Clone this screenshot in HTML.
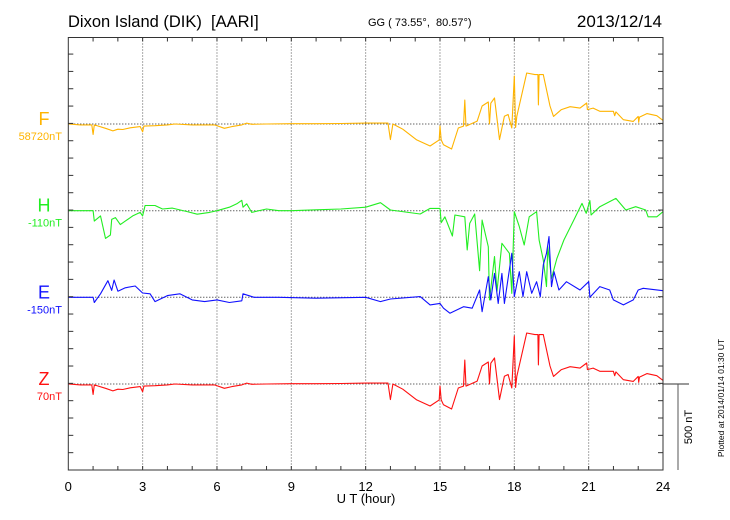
<!DOCTYPE html>
<html><head><meta charset="utf-8"><style>
body{margin:0;background:#fff;}
svg{display:block;font-family:"Liberation Sans",sans-serif;}
</style></head><body>
<svg id="chart" width="730" height="520" viewBox="0 0 730 520">
<text x="68" y="27" font-size="16.5" fill="#000" style="white-space:pre">Dixon Island (DIK)  [AARI]</text>
<text x="368" y="26" font-size="11" fill="#000" style="white-space:pre">GG ( 73.55°,  80.57°)</text>
<text x="662" y="27" font-size="17" text-anchor="end" fill="#000">2013/12/14</text>
<g id="grid"></g>
<g id="series"></g>
<g id="axes"></g>
<text x="366" y="503" font-size="13" text-anchor="middle" fill="#000">U T (hour)</text>
<text x="0" y="0" font-size="11" text-anchor="middle" transform="translate(692,427) rotate(-90)" fill="#000">500 nT</text>
<text x="0" y="0" font-size="8.5" text-anchor="middle" transform="translate(724,398) rotate(-90)" fill="#000">Plotted at 2014/01/14 01:30 UT</text>
</svg>
<script>
const xTicks=[0,3,6,9,12,15,18,21,24];
const fTimes=[0,0.5,0.95,1.0,1.05,1.5,1.8,2.0,2.2,2.5,2.9,3.0,3.05,3.5,4.0,4.3,5.0,5.9,6.3,6.6,7.0,7.2,7.4,8.0,9.0,10.0,11.0,12.0,12.9,13.0,13.1,13.5,14.06,14.6,14.97,15.0,15.05,15.14,15.47,15.74,15.95,16.0,16.05,16.5,16.7,16.95,17.0,17.05,17.2,17.4,17.6,17.75,17.9,18.0,18.05,18.1,18.5,18.83,18.95,18.97,19.0,19.17,19.44,19.58,19.9,20.25,20.65,20.92,20.95,21.18,21.45,22.0,22.05,22.1,22.4,22.8,23.0,23.02,23.05,23.35,23.75,24];
const fValues=[0,-5,-5,-60,-5,-25,-40,-30,-32,-22,-15,-45,-12,-10,-5,0,-5,-5,-25,-15,-5,5,-2,0,2,2,3,5,5,-90,0,-30,-92,-127,-92,-12,-92,-120,-144,-23,-12,138,-12,17,104,127,0,120,150,-90,45,55,-23,277,-20,44,294,285,285,110,285,285,104,44,83,100,92,121,83,92,73,73,48,70,25,15,44,10,40,60,48,21];
const zTimes=fTimes.slice();
const zValues=[0,-5,-5,-60,-5,-25,-40,-30,-32,-22,-15,-45,-12,-10,-5,0,-5,-5,-25,-15,-5,5,-2,0,2,2,3,5,5,-90,0,-30,-92,-127,-92,-12,-92,-120,-144,-23,-12,138,-12,17,104,127,0,120,150,-90,45,55,-23,277,-20,44,294,285,285,110,285,285,104,44,83,100,92,121,83,92,73,73,48,70,25,15,44,10,40,60,48,21];
const hTimes=[0,0.5,1.0,1.05,1.3,1.5,1.7,1.75,1.9,2.1,2.3,2.6,2.9,3.0,3.1,3.5,3.8,4.2,4.8,5.2,5.7,6.0,6.5,6.8,7.0,7.05,7.2,7.4,8.0,8.5,9.0,10.0,11.0,12.0,12.6,13.0,14.2,14.6,15.0,15.05,15.2,15.5,15.6,16.0,16.1,16.2,16.4,16.6,16.7,16.95,17.0,17.2,17.3,17.5,17.8,17.9,18.0,18.2,18.4,18.6,18.9,19.0,19.17,19.3,19.35,19.5,19.72,20.0,20.4,20.73,20.9,21.05,21.1,21.45,22.1,22.5,22.9,23.3,23.4,23.75,24];
const hValues=[0,0,0,-60,-30,-160,-140,-50,-40,-80,-60,-30,-10,-30,30,30,10,15,-5,-20,-10,0,20,40,60,20,40,-10,10,0,0,5,10,20,46,4,-19,13,13,-69,-35,-146,-25,-35,-227,-73,-19,-346,-54,-208,-515,-265,-465,-188,-246,-477,-6,-92,-198,-35,-6,-169,-285,-438,-208,-390,-275,-169,-54,42,-15,58,-25,23,71,4,23,4,-35,-35,-6];
const eTimes=[0,0.5,1.0,1.05,1.3,1.6,1.75,1.85,2.0,2.3,2.7,3.0,3.3,3.5,4.0,4.5,5.0,5.5,6.0,6.5,7.0,7.05,7.5,8.5,10.0,12.0,12.6,13.0,14.2,14.6,15.0,15.14,15.4,15.95,16.3,16.6,16.7,16.95,17.05,17.2,17.35,17.5,17.6,17.9,18.0,18.2,18.35,18.5,18.7,18.9,19.05,19.17,19.3,19.4,19.5,19.6,19.8,20.1,20.65,21.0,21.05,21.45,21.85,22.0,22.4,22.8,23.0,23.2,24];
const eValues=[0,0,0,-30,20,96,40,100,35,55,65,25,20,-25,10,20,-15,-25,-15,-30,-20,20,0,0,-5,0,-25,-10,4,-44,-35,-63,-92,-54,-63,42,-83,119,-15,138,-35,138,-35,254,4,148,4,148,23,90,4,187,254,350,62,148,42,90,42,90,0,62,42,-15,-44,-15,42,52,38];
const labels=["F","H","E","Z"];
const offsets=["58720nT","-110nT","-150nT","70nT"];

const X0=68.3,X1=663,TOP=37.5,BOT=470,PXNT=17.33/100;
const bases=[124,210.7,297.3,384];
const colors=["#ffb400","#22ee22","#1010ff","#ff1010"];
const xs=t=>X0+(X1-X0)*t/24;
const ys=(v,b)=>b-v*PXNT;
const NS="http://www.w3.org/2000/svg";
function mk(tag,attrs,parent){const e=document.createElementNS(NS,tag);for(const k in attrs)e.setAttribute(k,attrs[k]);parent.appendChild(e);return e;}
const grid=document.getElementById('grid'),axes=document.getElementById('axes'),ser=document.getElementById('series');
xTicks.forEach(t=>{if(t>0&&t<24){const l=mk('line',{x1:xs(t),x2:xs(t),y1:TOP,y2:BOT,stroke:'#555','stroke-width':1,'stroke-dasharray':'1,2'},grid);

}});
bases.forEach((b,i)=>{const l=mk('line',{x1:X0,x2:X1,y1:b,y2:b,stroke:'#222','stroke-width':1,'stroke-dasharray':'1,2'},grid);

});
const sets=[[fTimes,fValues],[hTimes,hValues],[eTimes,eValues],[zTimes,zValues]];
sets.forEach((s,i)=>{const pts=s[0].map((t,j)=>xs(t).toFixed(1)+','+ys(s[1][j],bases[i]).toFixed(1)).join(' ');
const p=mk('polyline',{points:pts,fill:'none',stroke:colors[i],'stroke-width':1.1,'stroke-linejoin':'round'},ser);


const tl=mk('text',{x:44,y:bases[i]+1,'font-size':18,'text-anchor':'middle',fill:colors[i]},axes);tl.textContent=labels[i];


const ol=mk('text',{x:62,y:bases[i]+16,'font-size':11,'text-anchor':'end',fill:colors[i]},axes);ol.textContent=offsets[i];

});
const fr=mk('rect',{x:X0,y:TOP,width:X1-X0,height:BOT-TOP,fill:'none',stroke:'#333','stroke-width':1},axes);


for(let h=1;h<24;h++){const x=xs(h);
mk('line',{x1:x,x2:x,y1:TOP,y2:TOP+4,stroke:'#333'},axes);mk('line',{x1:x,x2:x,y1:BOT,y2:BOT-4,stroke:'#333'},axes);}
for(let k=1;k<25;k++){const y=BOT-k*17.33;mk('line',{x1:X0,x2:X0+5,y1:y,y2:y,stroke:'#333'},axes);mk('line',{x1:X1,x2:X1-5,y1:y,y2:y,stroke:'#333'},axes);}
xTicks.forEach(t=>{const tx=mk('text',{x:xs(t),y:491,'font-size':13,'text-anchor':'middle',fill:'#000'},axes);tx.textContent=t;

});
const sb1=mk('line',{x1:X1,x2:689,y1:384,y2:384,stroke:'#333'},axes);


const sb2=mk('line',{x1:678,x2:678,y1:384,y2:470,stroke:'#555'},axes);


</script>
</body></html>
